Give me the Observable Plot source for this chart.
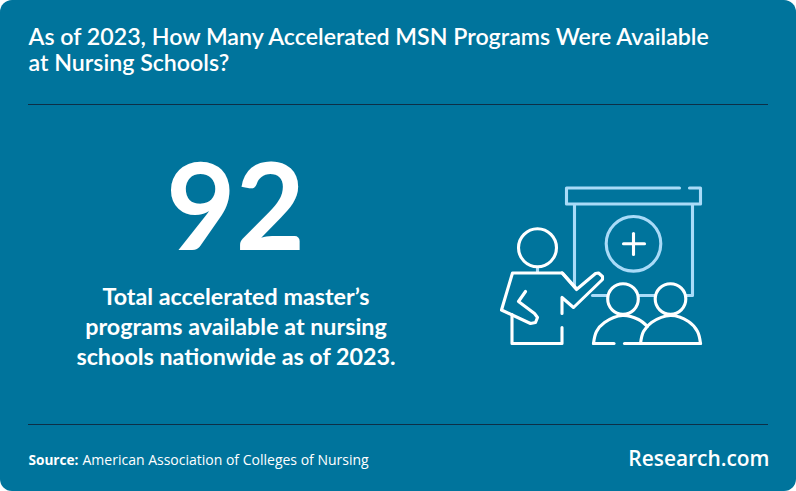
<!DOCTYPE html>
<html><head><meta charset="utf-8">
<script src="https://cdn.jsdelivr.net/npm/d3@7"></script>
<script src="https://cdn.jsdelivr.net/npm/@observablehq/plot@0.6"></script>
<style>html,body{margin:0;padding:0;background:#fff}svg{display:block}</style>
</head><body><div id="chart"></div>
<script>
const titleLines = ["As of 2023, How Many Accelerated MSN Programs Were Available", "at Nursing Schools?"];
const bigValue = "92";
const captionLines = ["Total accelerated master’s", "programs available at nursing", "schools nationwide as of 2023."];
const sourceLabel = "Source:";
const sourceText = "American Association of Colleges of Nursing";
const brand = "Research.com";

const BG = "#00749c", WHITE = "#ffffff", LIGHT = "#a9dbf8", DARK = "#0d2f47";

// Icon outlines, in picture coordinates
const screenLines = [
  [[679,187.5],[566,187.5],[566,203.5],[700,203.5],[700,187.5],[689,187.5]],
  [[574,204],[574,285]],
  [[692,204],[692,295],[685,295]],
  [[638,295],[655,295]],
  [[592,295],[607,295]],
  [[537,267],[537,272]]
];
const whiteLines = [
  [[575,287],[562,272.5],[512,272.5],[501,309.5],[530,323],[535,322],[537,317],[534,313],[518,301],[525,291]],
  [[511.5,314],[511.5,343],[561.5,343],[561.5,327]],
  [[561.5,272.5],[576,289],[595,273],[598,272.5],[602,276],[602,279],[573,307],[561.5,297],[561.5,313]],
  [[623,243.3],[644,243.3]],
  [[633,233],[633,254]],
  [[593,343],[613.5,343]],
  [[624,343],[700,343]]
];
const shoulderLeft = [[593,343],[596,331],[604,322],[622,315],[638,319],[647,326]];
const shoulderRight = [[640,343],[643,331],[651,322],[670,315],[688,321],[697,331],[700,343]];
const lightCircles = [{x:633,y:243.3,r:27.3}];
const whiteCircles = [{x:537,y:247.3,r:19},{x:622.5,y:298.5,r:15.3},{x:670,y:298.5,r:15.3}];

const SW = 3.1;
const lineMark = (pts, stroke, extra = {}) => Plot.line(pts, {
  x: d => d[0], y: d => d[1], stroke, strokeWidth: SW,
  strokeLinejoin: "round", strokeLinecap: "round", ...extra
});
const textMark = (text, x, y, o) => Plot.text([text], {
  x: () => x, y: () => y, text: d => d, fill: WHITE, lineAnchor: "middle", ...o
});

const marks = [
  ...titleLines.map((t, i) => textMark(t, 28, [37, 63][i], {textAnchor:"start", fontFamily:"Lato", fontSize:23.2, fontWeight:600})),
  Plot.ruleY([104, 424], {x1: 28, x2: 768, stroke: DARK, strokeWidth: 1}),
  textMark(bigValue, 235, 211, {fontFamily:"Lato", fontSize:120, fontWeight:700}),
  ...captionLines.map((t, i) => textMark(t, 235.5, [297, 327, 357][i], {fontFamily:"Lato", fontSize:23.3, fontWeight:700})),
  textMark(sourceLabel, 28, 460, {textAnchor:"start", fontFamily:"Open Sans", fontSize:13.6, fontWeight:700}),
  textMark(sourceText, 82, 460, {textAnchor:"start", fontFamily:"Open Sans", fontSize:14, fontWeight:400}),
  textMark(brand, 769, 459, {textAnchor:"end", fontFamily:"Open Sans", fontSize:20.9, fontWeight:600}),
  ...screenLines.map(p => lineMark(p, LIGHT)),
  Plot.dot(lightCircles, {x:"x", y:"y", r:"r", stroke: LIGHT, strokeWidth: SW}),
  ...whiteLines.map(p => lineMark(p, WHITE)),
  lineMark(shoulderLeft, WHITE, {curve:"catmull-rom"}),
  lineMark(shoulderRight, WHITE, {curve:"catmull-rom"}),
  Plot.dot(whiteCircles, {x:"x", y:"y", r:"r", stroke: WHITE, strokeWidth: SW})
];

const chart = Plot.plot({
  width: 796, height: 491,
  margin: 0,
  x: {domain:[0,796], range:[0,796], axis:null},
  y: {domain:[0,491], range:[0,491], axis:null},
  r: {type:"identity"},
  style: {background: BG, borderRadius: "12px", overflow:"hidden"},
  marks
});
document.getElementById("chart").append(chart);
</script></body></html>
